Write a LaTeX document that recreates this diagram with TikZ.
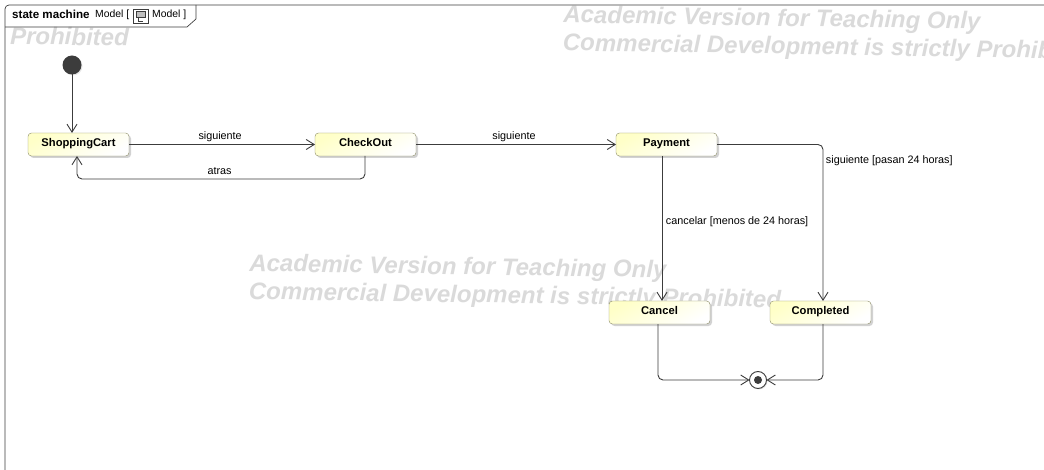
\documentclass[tikz,border=0pt]{standalone}
\usepackage{fontspec}
\setmainfont{Liberation Sans}
\usetikzlibrary{arrows.meta,positioning,shadows,calc}

\definecolor{linegray}{HTML}{3C3C3C}
\definecolor{statefill}{HTML}{FFFFC8}
\definecolor{stateline}{HTML}{8C8C66}
\definecolor{markgray}{HTML}{DADADA}

\begin{document}
\begin{tikzpicture}[
  x=1pt, y=-1pt,
  state/.style={draw=stateline, rounded corners=3.5pt, align=center, minimum width=101pt,
    minimum height=23pt, inner sep=0pt, outer sep=0pt, text height=8pt, text depth=4.5pt,
    font=\fontsize{11.2}{12}\selectfont\bfseries,
    top color=statefill, bottom color=white, shading angle=30,
    drop shadow={shadow xshift=2pt, shadow yshift=-2pt, fill=black!35}},
  arr/.style={-{Straight Barb[length=8pt,width=10pt]}, draw=linegray, line width=0.9pt},
  plain/.style={draw=linegray, line width=0.9pt},
  lbl/.style={font=\fontsize{10.8}{12}\selectfont, inner sep=1pt},
  watermark/.style={text=markgray, anchor=west, align=left, inner sep=0pt, rotate=-0.9,
    font=\fontsize{24}{28}\selectfont\bfseries\itshape}
]
\useasboundingbox (0,0) rectangle (1044,470);

% watermarks
\node[watermark] (markA) at (563,30.5) {Academic Version for Teaching Only\\Commercial Development is strictly Prohibited};
\node[watermark] (markB) at (10,35.5) {Prohibited};
\node[watermark] (markC) at (249,279) {Academic Version for Teaching Only\\Commercial Development is strictly Prohibited};

% frame
\draw[plain, line width=0.7pt, rounded corners=4pt] (5,470) -- (5,5) -- (1044,5);
\draw[plain, line width=0.7pt] (5,27) -- (187,27) -- (196,19) -- (196,5);
\node[anchor=west, inner sep=0pt, font=\fontsize{11.6}{12}\selectfont\bfseries] (title) at (12,14.5) {state machine};
\node[anchor=west, inner sep=0pt, font=\fontsize{10.4}{12}\selectfont] (ownerA) at (95,14.5) {Model [};
\node[anchor=west, inner sep=0pt, font=\fontsize{10.4}{12}\selectfont] (ownerB) at (152,14.5) {Model ]};
\draw[plain, line width=0.6pt, fill=white] (133,9) rectangle (148,23);
\draw[plain, line width=0.6pt, fill=black!25] (136,11.5) rectangle (145,17);
\draw[plain, line width=0.6pt] (138,17) -- (138,21) -- (143,21);

% states
\node[state] (shop) at (78.5,144.5) {ShoppingCart};
\node[state, right=186pt of shop] (check) {CheckOut};
\node[state, right=200pt of check] (pay) {Payment};
\node[state, below=145pt of pay, xshift=-7pt] (cancel) {Cancel};
\node[state, right=60pt of cancel] (done) {Completed};

\node[circle, fill=linegray, minimum size=19pt, inner sep=0pt, outer sep=0pt, drop shadow={shadow xshift=1pt, shadow yshift=-1pt, fill=black!20}, above=58.5pt of shop, xshift=-6.5pt] (start) {};
\node[circle, draw=linegray, fill=white, line width=0.9pt, minimum size=17pt, inner sep=0pt, outer sep=0pt, drop shadow={shadow xshift=1pt, shadow yshift=-1pt, fill=black!20}] (end) at (758,380) {};
\node[circle, fill=linegray, minimum size=8pt, inner sep=0pt] (endDot) at (end) {};

% transitions
\draw[arr] (start) -- (start |- shop.north);
\draw[arr] (shop) -- node[lbl, above, pos=0.49, yshift=1.5pt] {siguiente} (check);
\draw[arr, rounded corners=5pt] ([xshift=-0.5pt]check.south) -- ++(0,23) -- node[lbl, above, pos=0.505, yshift=3pt] {atras} ($(shop.south)+(-1.5,23)$) -- ($(shop.south)+(-1.5,0)$);
\draw[arr] (check) -- node[lbl, above, pos=0.49, yshift=1.5pt] {siguiente} (pay);
\draw[arr] ([xshift=-4.5pt]pay.south) -- node[lbl, right, pos=0.45, xshift=2.5pt] {cancelar [menos de 24 horas]} ([xshift=2.5pt]cancel.north);
\draw[arr, rounded corners=5pt] (pay.east) -- ([xshift=2.5pt]done.north |- pay.east) -- node[lbl, right, pos=0.105, xshift=1.5pt] {siguiente [pasan 24 horas]} ([xshift=2.5pt]done.north);
\draw[arr, rounded corners=5pt] ([xshift=-1.5pt]cancel.south) -- ($(cancel.south)+(-1.5,56)$) -- (end.west);
\draw[arr, rounded corners=5pt] ([xshift=2.5pt]done.south) -- ($(done.south)+(2.5,56)$) -- (end.east);
\end{tikzpicture}
\end{document}
